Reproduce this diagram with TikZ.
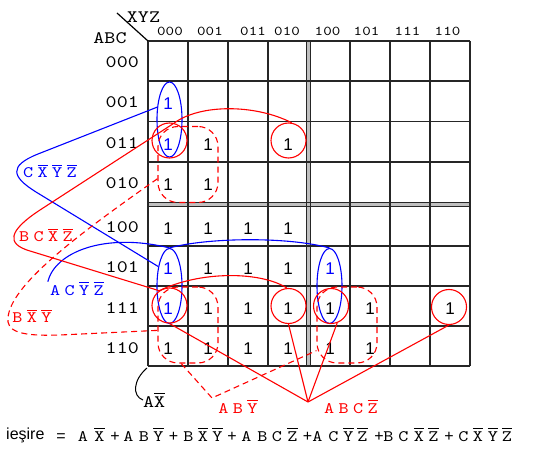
\documentclass[tikz,border=0pt]{standalone}
\usepackage{fontspec}
\setmainfont{Liberation Sans}
\newfontfamily\cour{lmmono10-regular}[Extension=.otf,FakeStretch=1.2]
\usetikzlibrary{shapes.geometric}

\newcommand\nb[1]{\setbox0\hbox{#1}\rlap{\raisebox{\dimexpr\ht0+2.2pt\relax}{\rule{\wd0}{1.1pt}}}\box0}
\newcommand\ltr[1]{\makebox[14.5pt]{#1}}
\newcommand\ltb[1]{\makebox[14.5pt]{\nb{#1}}}
\newcommand\pl{\textrm{+}}

\begin{document}
\begin{tikzpicture}[x=1pt,y=-1pt,
  gridline/.style={line width=1.2pt,black!85},
  one/.style={font=\fontsize{17}{17}\selectfont,inner sep=0pt,yshift=-3pt},
  hdr/.style={font=\cour\fontsize{13.5}{13.5}\selectfont,inner sep=0pt,anchor=base},
  rowlab/.style={font=\cour\fontsize{17.5}{17.5}\selectfont,inner sep=0pt,anchor=base east},
  term/.style={font=\cour\fontsize{16}{16}\selectfont,inner sep=0pt,anchor=base},
  bloop/.style={draw=blue,line width=1.1pt,ellipse,minimum width=25pt,minimum height=75pt,inner sep=0pt},
  rloop/.style={draw=red,line width=1.1pt,circle,minimum size=35pt,inner sep=0pt},
  dloop/.style={draw=red,line width=1.1pt,dash pattern=on 6pt off 4pt,rounded corners=20pt,minimum width=60pt,minimum height=76pt,inner sep=0pt},
  bl/.style={blue,line width=1.1pt},
  rd/.style={red,line width=1.1pt},
  rdd/.style={red,line width=1.1pt,dash pattern=on 6pt off 4pt}]
\useasboundingbox (0,0) rectangle (538,454);

% the map
\fill[gray!50] (306.5,41) rectangle (310.5,366);
\fill[gray!50] (148,202.5) rectangle (470,206.5);
\foreach \x in {148,188,228,268,306.5,310.5,350,390,430,470}
  \draw[gridline] (\x,41) -- (\x,366);
\foreach \y in {41,81,121.5,162,202.5,206.5,246,286,326,366}
  \draw[gridline] (148,\y) -- (470,\y);

\coordinate (dg) at (117,13);
\draw[line width=1.2pt] (dg) -- (148,41);
\node[font=\cour\fontsize{17.5}{17.5}\selectfont,anchor=base,inner sep=0pt] (lxyz) at (143.5,23) {XYZ};
\node[font=\cour\fontsize{17.5}{17.5}\selectfont,anchor=base,inner sep=0pt] (labc) at (110,44) {ABC};

\foreach \x/\hx/\t [count=\c from 0] in {168/170/000,208/210/001,248/253/011,288/287/010,330/327.5/100,370/366.5/101,410/407.5/111,450/447.5/110}{
  \coordinate (cx\c) at (\x,0);
  \node[hdr] (h\c) at (\hx,36) {\t};
}
\foreach \y/\t [count=\r from 0] in {61/000,101/001,141.5/011,182/010,226/100,266/101,306/111,346/110}{
  \coordinate (ry\r) at (0,\y);
  \node[rowlab] (v\r) at (139,\y+7) {\t};
}

\foreach \r/\c in {2/1,2/3,3/0,3/1,4/0,4/1,4/2,4/3,5/1,5/2,5/3,6/1,6/2,6/3,6/4,6/5,6/7,7/0,7/1,7/2,7/3,7/4,7/5}
  \node[one] (o\r\c) at (cx\c |- ry\r) {1};
\foreach \r/\c in {1/0,2/0,5/0,6/0,5/4}
  \node[one,blue] (o\r\c) at (cx\c |- ry\r) {1};

% groups
\node[bloop] (e1) at (169.5,119.5) {};
\node[bloop] (e2) at (169.5,286) {};
\node[bloop] (e3) at (329.5,286) {};
\node[rloop] (k1) at (169.5,140.5) {};
\node[rloop] (k2) at (288.5,140.5) {};
\node[rloop] (k3) at (169.5,305.5) {};
\node[rloop] (k4) at (288.5,306) {};
\node[rloop] (k5) at (331,306) {};
\node[rloop] (k6) at (449,307) {};
\node[dloop] (d1) at (188,164.5) {};
\node[dloop] (d2) at (188,325) {};
\node[dloop] (d3) at (347,325) {};

% labels
\node[term,blue] (lcxyz) at (50,178) {\ltr{C}\ltb{X}\ltb{Y}\ltb{Z}};
\node[term,red] (lbcxz) at (46,242) {\ltr{B}\ltr{C}\ltb{X}\ltb{Z}};
\node[term,blue] (lacyz) at (77,295) {\ltr{A}\ltr{C}\ltb{Y}\ltb{Z}};
\node[term,red] (lbxy) at (32,323) {\ltr{B}\ltb{X}\ltb{Y}};
\node[term,red] (laby) at (238,413) {\ltr{A}\ltr{B}\ltb{Y}};
\node[term,red] (labcz) at (351,413) {\ltr{A}\ltr{B}\ltr{C}\ltb{Z}};
\node[font=\cour\fontsize{17.5}{17.5}\selectfont,anchor=base west,inner sep=0pt] (lax) at (143,407) {A\nb{X}};

% connectors
\draw[bl] (e1.135) -- (38,154) .. controls (8,166) and (12,177) .. (36,192) -- (e2.120);
\draw[bl] (lacyz.north west) .. controls (55,252) and (105,232) .. (e2.north)
  .. controls (205,238) and (285,236) .. (e3.north);
\draw[rd] (k2.80) .. controls (255,104) and (200,104) .. (k1.75) -- (40,210)
  .. controls (8,231) and (6,244) .. (30,251) -- (k3.125)
  .. controls (200,271) and (260,271) .. (k4.95);
\coordinate (vabcz) at (308,402);
\draw[rd] (k3.south) -- (vabcz);
\draw[rd] (k4.south) -- (vabcz);
\draw[rd] (k5.290) -- (vabcz);
\draw[rd] (k6.south) -- (vabcz);
\draw[rdd] (d1.205) .. controls (70,240) and (5,290) .. (8,322)
  .. controls (10,334) and (30,336) .. (60,335) -- (d2.190);
\coordinate (vaby) at (212,398);
\draw[rdd] (d2.260) -- (vaby) -- (d3.220);
\coordinate (ax0) at (147,368);
\draw[line width=1pt] (ax0) .. controls (133,380) and (132,396) .. (lax.west);

% output
\node[font=\fontsize{16}{16}\selectfont,anchor=base west,inner sep=0pt] (ies) at (6,439.5) {ieşire};
\node[font=\fontsize{16}{16}\selectfont,anchor=base,inner sep=0pt] (eq) at (61,441) {=};
\foreach \x/\s [count=\i] in {83/A,99.5/\nb{X},115/\pl,128.5/A,144/B,158.5/\nb{Y},173.5/\pl,
  188.5/B,203/\nb{X},217.5/\nb{Y},232/\pl,246.5/A,262.5/B,277/C,292.5/\nb{Z},307.5/\pl,
  317.5/A,333.5/C,348.5/\nb{Y},362.5/\nb{Z},379/\pl,388.5/B,403.5/C,419/\nb{X},433.5/\nb{Z},
  449/\pl,463.5/C,478/\nb{X},493/\nb{Y},507/\nb{Z}}
  \node[term] (f\i) at (\x,441) {\s};
\end{tikzpicture}
\end{document}
